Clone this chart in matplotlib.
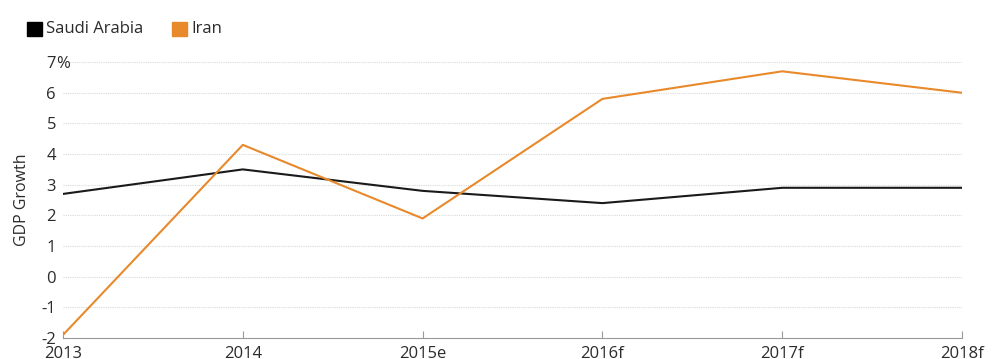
import matplotlib.pyplot as plt
import numpy as np

years = ['2013', '2014', '2015e', '2016f', '2017f', '2018f']
saudi = [2.7, 3.5, 2.8, 2.4, 2.9, 2.9]
iran = [-1.9, 4.3, 1.9, 5.8, 6.7, 6.0]
yticks = [-2, -1, 0, 1, 2, 3, 4, 5, 6, 7]

plt.rcParams['font.family'] = ['Open Sans', 'DejaVu Sans']

fig = plt.figure(figsize=(10, 3.59), dpi=100)
ax = fig.add_axes([0.063, 0.0585, 0.899, 0.7685])

x = np.arange(len(years))
ax.plot(x, saudi, color='#1a1a1a', lw=1.5, label='Saudi Arabia')
ax.plot(x, iran, color='#e8892b', lw=1.5, label='Iran')

ax.set_xlim(0, len(years) - 1)
ax.set_ylim(-2, 7)
ax.set_yticks(yticks)
ax.set_yticklabels([str(v) for v in yticks], fontsize=12, color='#2b2b2b')
ax.text(-0.0075, 7, '%', transform=ax.get_yaxis_transform(), fontsize=12,
        color='#2b2b2b', ha='left', va='center_baseline')
ax.set_xticks(x)
ax.set_xticklabels(years, fontsize=12, color='#2b2b2b')

for y in yticks[1:]:
    ax.axhline(y, color='#d9d9d9', lw=0.8, ls=(0, (1, 1)), zorder=0)

for s in ['top', 'right', 'left']:
    ax.spines[s].set_visible(False)
ax.spines['bottom'].set_color('#999999')
ax.tick_params(axis='y', length=0, pad=5)
ax.tick_params(axis='x', direction='in', length=5, color='#999999', pad=6)
ax.set_ylabel('GDP Growth', fontsize=11.5, color='#2b2b2b', labelpad=8)

# legend
fig.patches.append(plt.Rectangle((0.027, 0.90), 0.015, 0.04, transform=fig.transFigure,
                                 color='#000000'))
fig.text(0.046, 0.918, 'Saudi Arabia', fontsize=12, color='#2b2b2b', va='center')
fig.patches.append(plt.Rectangle((0.172, 0.90), 0.015, 0.04, transform=fig.transFigure,
                                 color='#e8892b'))
fig.text(0.191, 0.918, 'Iran', fontsize=12, color='#2b2b2b', va='center')

fig.savefig('out.png', dpi=100)
